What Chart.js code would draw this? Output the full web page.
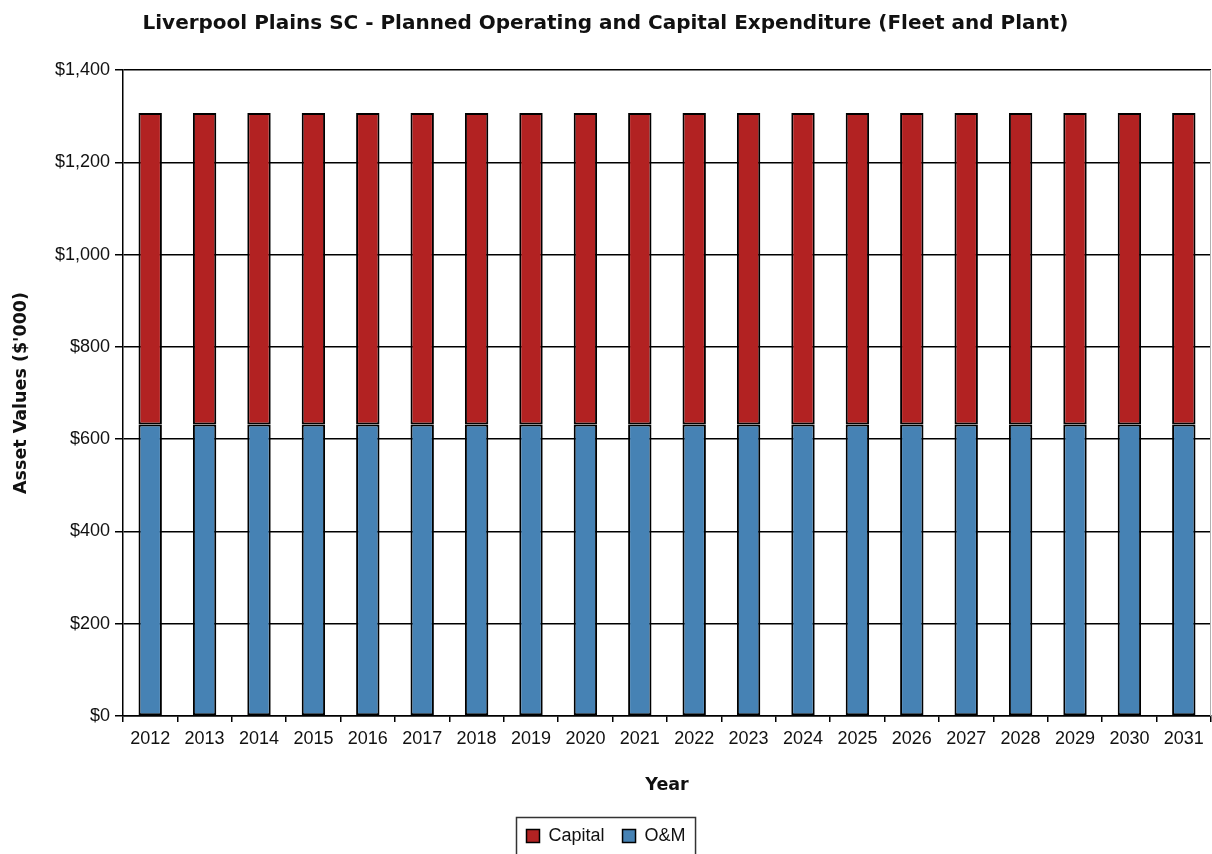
<!DOCTYPE html>
<html>
<head>
<meta charset="utf-8">
<script src="https://cdn.jsdelivr.net/npm/chart.js@4"></script>
<style>
  html, body { margin: 0; padding: 0; background: #fff; }
  #wrap { width: 1212px; height: 854px; }
</style>
</head>
<body>
<div id="wrap"><canvas id="chart" width="1212" height="854"></canvas></div>
<script>
const years = ['2012', '2013', '2014', '2015', '2016', '2017', '2018', '2019', '2020', '2021',
  '2022', '2023', '2024', '2025', '2026', '2027', '2028', '2029', '2030', '2031'];
const capital = [675, 675, 675, 675, 675, 675, 675, 675, 675, 675,
  675, 675, 675, 675, 675, 675, 675, 675, 675, 675];
const operating = [632, 632, 632, 632, 632, 632, 632, 632, 632, 632,
  632, 632, 632, 632, 632, 632, 632, 632, 632, 632];
const yTicks = [0, 200, 400, 600, 800, 1000, 1200, 1400];

const tickFont = { family: 'Liberation Sans', size: 18 };
const boldFont = { family: 'DejaVu Sans', size: 17.5, weight: 'bold' };

// legend in a thin box under the axis title, like the original
const boxLegend = {
  id: 'boxLegend',
  afterDraw: chart => {
    const ctx = chart.ctx;
    const sets = chart.data.datasets;
    ctx.save();
    ctx.font = '18px "Liberation Sans"';
    const sq = 13, gapText = 9, gapItem = 18, padX = 10;
    let total = padX * 2;
    sets.forEach((ds, i) => {
      total += sq + gapText + ctx.measureText(ds.label).width;
      if (i < sets.length - 1) total += gapItem;
    });
    const left = Math.round(chart.width / 2 - total / 2) + 0.5;
    const top = 817.5;
    ctx.strokeStyle = '#333';
    ctx.lineWidth = 1.5;
    ctx.strokeRect(left, top, total, 60);
    let x = left + padX;
    ctx.textBaseline = 'middle';
    sets.forEach(ds => {
      ctx.fillStyle = ds.backgroundColor;
      ctx.fillRect(x, top + 12, sq, sq);
      ctx.strokeStyle = '#000';
      ctx.strokeRect(x, top + 12, sq, sq);
      x += sq + gapText;
      ctx.fillStyle = '#111';
      ctx.fillText(ds.label, x, top + 19);
      x += ctx.measureText(ds.label).width + gapItem;
    });
    // faint right border of the plot area
    const a = chart.chartArea;
    ctx.beginPath();
    ctx.lineWidth = 1;
    ctx.moveTo(a.right - 0.5, a.top);
    ctx.lineTo(a.right - 0.5, a.bottom);
    ctx.strokeStyle = '#b0b0b0';
    ctx.stroke();
    ctx.restore();
  }
};

new Chart(document.getElementById('chart'), {
  type: 'bar',
  plugins: [boxLegend],
  data: {
    labels: years,
    datasets: [{
      label: 'Capital',
      data: capital,
      backgroundColor: '#B22222',
      borderColor: '#000',
      borderWidth: 2,
      borderSkipped: false,
      stack: 'a',
      order: 2
    }, {
      label: 'O&M',
      data: operating,
      backgroundColor: '#4682B4',
      borderColor: '#000',
      borderWidth: 2,
      borderSkipped: false,
      stack: 'a',
      order: 1
    }]
  },
  options: {
    responsive: false,
    animation: false,
    devicePixelRatio: 1,
    layout: { padding: { left: 0, right: 1, top: 0, bottom: 0 } },
    datasets: {
      bar: { categoryPercentage: 1, barPercentage: 0.43 }
    },
    plugins: {
      legend: { display: false },
      tooltip: { enabled: false },
      title: {
        display: true,
        text: 'Liverpool Plains SC - Planned Operating and Capital Expenditure (Fleet and Plant)',
        color: '#111',
        font: { family: 'DejaVu Sans', size: 20, weight: 'bold' },
        padding: { top: 12, bottom: 34 }
      }
    },
    scales: {
      x: {
        stacked: true,
        afterFit: s => { s.height = 138; },
        grid: {
          drawOnChartArea: false,
          drawTicks: true,
          tickLength: 6,
          lineWidth: 1.5,
          color: '#000',
          offset: true
        },
        border: { color: '#000', width: 1.5 },
        ticks: { color: '#111', font: tickFont, padding: 6, maxRotation: 0, autoSkip: false },
        title: {
          display: true,
          text: 'Year',
          color: '#111',
          font: boldFont,
          padding: { top: 0, bottom: 58 }
        }
      },
      y: {
        stacked: true,
        min: yTicks[0],
        max: yTicks[yTicks.length - 1],
        afterFit: s => { s.width = 123; },
        afterBuildTicks: s => { s.ticks = yTicks.map(v => ({ value: v })); },
        grid: { color: '#000', tickLength: 8, lineWidth: 1.5 },
        border: { color: '#000', width: 1.5 },
        ticks: {
          color: '#111',
          font: tickFont,
          padding: 5,
          callback: v => '$' + v.toLocaleString('en-US')
        },
        title: {
          display: true,
          text: "Asset Values ($'000)",
          color: '#111',
          font: boldFont,
          padding: { top: 11, bottom: 0 }
        }
      }
    }
  }
});
</script>
</body>
</html>
